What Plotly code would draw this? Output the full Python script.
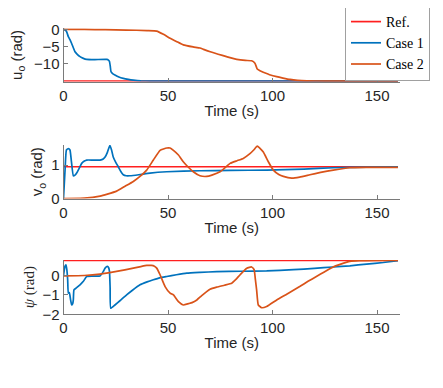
import plotly.graph_objects as go
import math

# ---------------- data ----------------
t_end = 160
ref_u = -15.0
ref_v = 0.95
ref_psi = math.pi / 4

u1_t = [0, 0.8, 1.5, 2.3, 3.1, 3.9, 5.5, 6.7, 7.9, 9.5, 11.1, 15, 20.7, 21.5, 22, 22.4, 22.7, 23.5, 24.6, 26.5, 28.6, 31, 33.4, 37, 41.4, 50, 160]
u1 = [0, -0.2, -0.7, -2.1, -3.0, -4.1, -6.5, -7.3, -7.9, -8.4, -8.7, -8.75, -8.7, -8.9, -9.3, -10.8, -12.2, -12.8, -13.2, -13.8, -14.2, -14.5, -14.7, -14.9, -15.0, -15.0, -15.0]

u2_t = [0, 10, 20, 30, 40, 44.6, 47.8, 51, 54, 57.3, 62, 65.3, 67, 70.2, 74, 78, 82.9, 87, 90, 91.6, 92.7, 94, 95.6, 99, 102, 105, 108.4, 112, 116.4, 125, 160]
u2 = [0, -0.02, -0.1, -0.2, -0.35, -0.5, -1.45, -2.6, -3.5, -4.5, -5.1, -5.4, -5.8, -6.5, -7.2, -7.9, -8.7, -9.0, -9.1, -9.8, -11.5, -12.0, -12.4, -13.2, -13.7, -14.1, -14.5, -14.75, -14.9, -15.0, -15.0]

v1_t = [0, 0.7, 1.4, 2.3, 3.1, 3.8, 4.7, 5.5, 6.3, 7.5, 8.7, 10, 11.1, 14, 17.5, 19, 19.9, 21, 22.2, 23, 23.8, 25, 26.2, 27.5, 28.6, 30, 31.8, 36, 41.4, 49.4, 65.3, 80, 97.2, 115, 129, 145, 160]
v1 = [0, 0.8, 1.45, 1.49, 1.45, 1.1, 0.68, 0.7, 0.76, 0.9, 1.05, 1.12, 1.15, 1.15, 1.15, 1.18, 1.24, 1.38, 1.59, 1.45, 1.24, 1.08, 0.95, 0.8, 0.71, 0.68, 0.68, 0.71, 0.76, 0.8, 0.83, 0.84, 0.85, 0.88, 0.92, 0.94, 0.95]

v2_t = [0, 10, 17.5, 21, 25.4, 29, 33.4, 36.6, 39.8, 43, 46.2, 49.4, 51, 52.6, 55, 57.3, 60, 62.1, 65.3, 68.5, 71, 74.9, 79.7, 83, 86, 89.2, 91, 92.7, 94, 95.6, 98, 100.4, 103, 105.2, 109.2, 113, 117.9, 123, 129.1, 137, 145, 160]
v2 = [0, 0.01, 0.07, 0.13, 0.22, 0.35, 0.51, 0.66, 0.85, 1.15, 1.44, 1.51, 1.51, 1.44, 1.3, 1.10, 0.92, 0.8, 0.68, 0.66, 0.7, 0.8, 1.05, 1.13, 1.2, 1.34, 1.45, 1.57, 1.5, 1.39, 1.1, 0.85, 0.72, 0.66, 0.61, 0.64, 0.71, 0.78, 0.85, 0.92, 0.93, 0.93]

p1_t = [0, 0.7, 1.2, 1.6, 2.0, 2.3, 2.8, 3.4, 3.9, 4.4, 4.7, 5.0, 6, 7.9, 9.5, 11.1, 14, 17.5, 19, 19.9, 21, 21.6, 22, 22.3, 22.6, 24.6, 27, 30.2, 33, 36.6, 40, 43, 46, 49.4, 54, 59, 65.3, 73.3, 85, 97.2, 110, 120, 129, 137, 145, 153, 160]
p1 = [0, 0.47, 0.55, 0.3, -0.22, -0.91, -0.88, -1.26, -1.52, -1.45, -1.26, -0.74, -0.65, -0.48, -0.3, -0.05, -0.03, -0.02, 0.2, 0.38, 0.47, 0.4, 0.21, -0.6, -1.69, -1.52, -1.3, -1.0, -0.76, -0.48, -0.33, -0.22, -0.12, -0.05, 0.04, 0.12, 0.16, 0.2, 0.22, 0.24, 0.3, 0.37, 0.44, 0.5, 0.59, 0.67, 0.76]

p2_t = [0, 10, 17.5, 25.4, 33.4, 37, 39.8, 42, 43.5, 44.6, 46.2, 47.5, 48.6, 51, 52.6, 55, 57.3, 59.8, 61.5, 63.8, 66, 68.5, 70.1, 73.3, 77, 80.5, 82.5, 84.5, 87.7, 90, 91.2, 91.8, 92.4, 93.2, 94.8, 97.2, 102, 107, 113, 117, 121, 125, 129, 133, 137, 141.5, 150, 160]
p2 = [-0.02, 0.0, 0.07, 0.21, 0.38, 0.46, 0.52, 0.52, 0.48, 0.38, 0.04, -0.3, -0.57, -0.91, -1.0, -1.35, -1.52, -1.45, -1.4, -1.26, -1.05, -0.83, -0.71, -0.6, -0.5, -0.40, -0.2, 0.04, 0.38, 0.44, 0.3, -0.2, -0.74, -1.52, -1.66, -1.6, -1.26, -0.95, -0.57, -0.3, -0.05, 0.2, 0.44, 0.6, 0.73, 0.77, 0.785, 0.785]

x_ticks = [0, 50, 100, 150]
u_ticks = [0, -5, -10]
v_ticks = [0, 1]
p_ticks = [-2, -1, 0]

# ---------------- styles ----------------
RED = "#ff1f1f"
BLUE = "#0072BD"
ORANGE = "#D95319"
LW = 1.7
AX = "#7a7a7a"
TXT = "#262626"
SANS = "Liberation Sans, Arial, sans-serif"
SERIF = "Liberation Serif, serif"

fig = go.Figure()

rows = [
    ("x", "y", [ref_u, ref_u], u1_t, u1, u2_t, u2, True),
    ("x2", "y2", [ref_v, ref_v], v1_t, v1, v2_t, v2, False),
    ("x3", "y3", [ref_psi, ref_psi], p1_t, p1, p2_t, p2, False),
]
for xa, ya, rv, t1, s1, t2, s2, leg in rows:
    fig.add_trace(go.Scatter(x=[0, t_end], y=rv, mode="lines", line=dict(color=RED, width=LW),
                             name="Ref.", showlegend=leg, xaxis=xa, yaxis=ya))
    fig.add_trace(go.Scatter(x=t1, y=s1, mode="lines", line=dict(color=BLUE, width=LW, shape="spline", smoothing=0.4),
                             name="Case 1", showlegend=leg, xaxis=xa, yaxis=ya))
    fig.add_trace(go.Scatter(x=t2, y=s2, mode="lines", line=dict(color=ORANGE, width=LW, shape="spline", smoothing=0.4),
                             name="Case 2", showlegend=leg, xaxis=xa, yaxis=ya))

W, H = 443, 388
OFF = 8  # page body margin offset

def xfrac(px):
    return (px - OFF) / W

def ydom(top_px, bot_px):
    return [(H - (bot_px - OFF)) / H, (H - (top_px - OFF)) / H]

xdom = [xfrac(63.5), xfrac(400)]

axis_common = dict(showline=True, linecolor=AX, linewidth=1, ticks="inside", ticklen=4,
                   tickcolor=AX, showgrid=False, zeroline=False, mirror=False, automargin=False,
                   tickfont=dict(family=SANS, size=15, color=TXT))

xaxis_common = dict(axis_common, range=[0, 161], tickvals=x_ticks,
                    title=dict(text="Time (s)", font=dict(family=SANS, size=15, color=TXT), standoff=2))

def ytitle(txt, fam=SANS, so=4):
    return dict(text=txt, font=dict(family=fam, size=15, color=TXT), standoff=so)

fig.update_layout(
    width=W, height=H,
    margin=dict(l=0, r=0, t=0, b=0, autoexpand=False),
    paper_bgcolor="white", plot_bgcolor="white",
    xaxis=dict(xaxis_common, domain=xdom, anchor="y"),
    xaxis2=dict(xaxis_common, domain=xdom, anchor="y2"),
    xaxis3=dict(xaxis_common, domain=xdom, anchor="y3"),
    yaxis=dict(axis_common, domain=ydom(28.3, 81.5), range=[-15.1, 0.3], tickvals=u_ticks,
               anchor="x", title=ytitle("u<sub>o</sub> (rad)", so=8)),
    yaxis2=dict(axis_common, domain=ydom(145, 198.5), range=[0, 1.6], tickvals=v_ticks, anchor="x2",
                title=ytitle("v<sub>o</sub> (rad)")),
    yaxis3=dict(axis_common, domain=ydom(260, 314.3), range=[-2, 0.8], tickvals=p_ticks, anchor="x3",
                title=ytitle("<i>ψ</i> (rad)", "Liberation Serif, serif")),
    legend=dict(x=xfrac(430), xanchor="right", y=ydom(5, 6)[1], yanchor="top",
                bgcolor="white", bordercolor="#a0a0a0", borderwidth=1,
                font=dict(family=SERIF, size=14, color="black"),
                itemwidth=30, tracegroupgap=0),
    showlegend=True,
)

fig.write_html("out.html")
